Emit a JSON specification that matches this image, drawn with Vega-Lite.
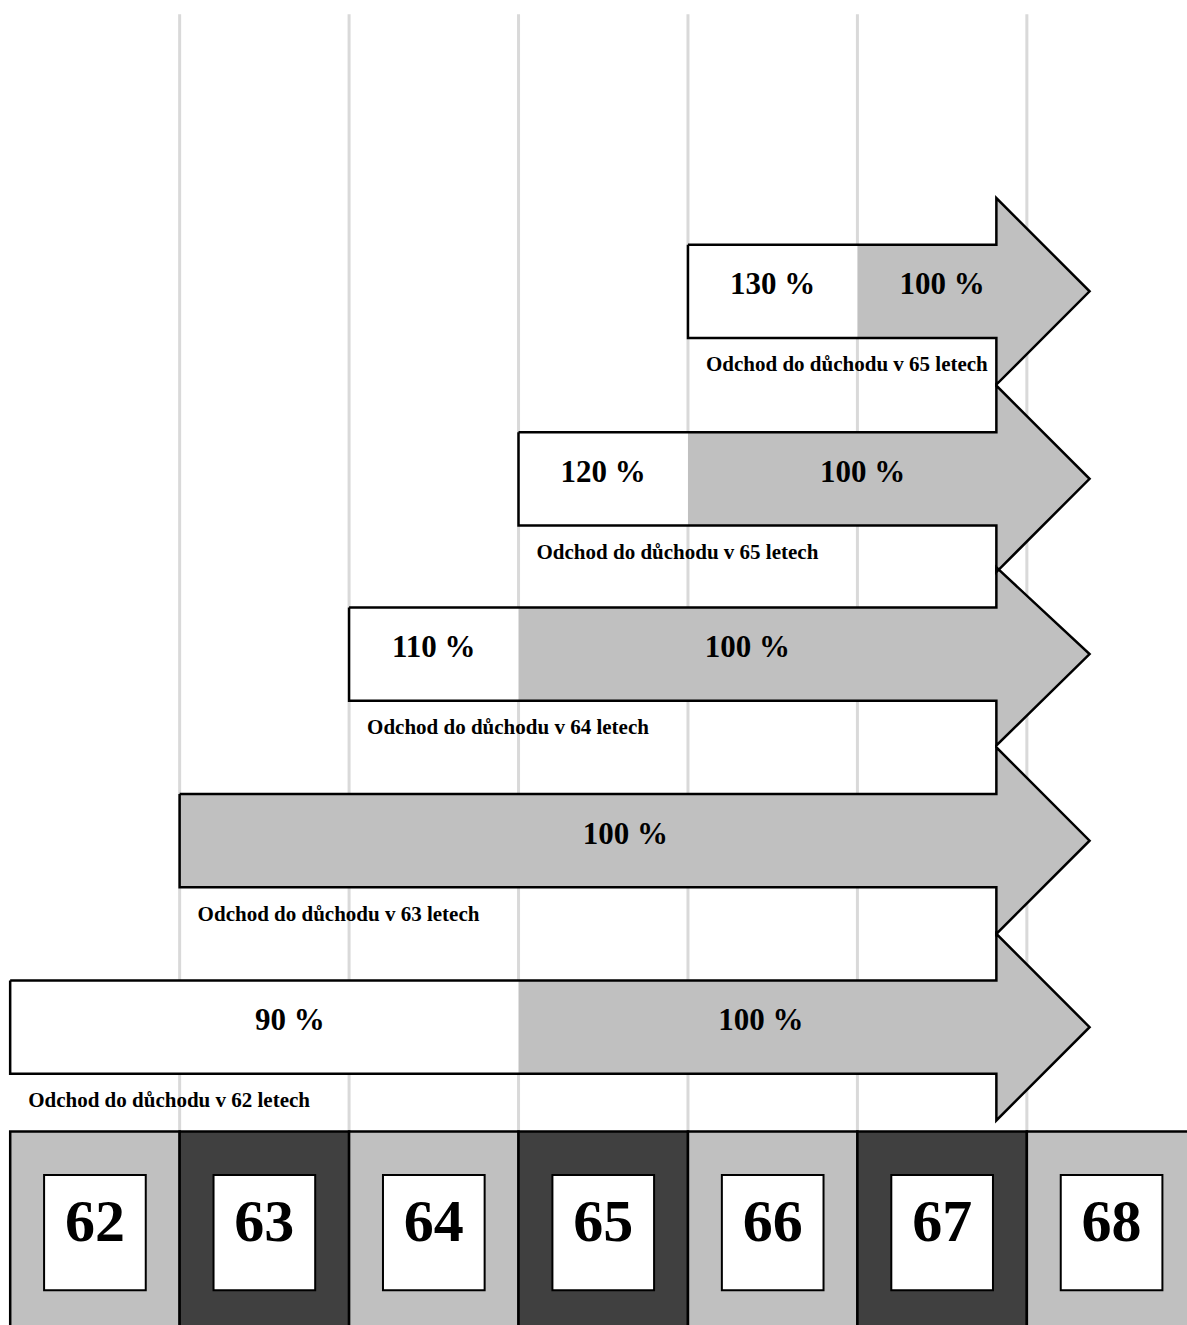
{
  "$schema": "https://vega.github.io/schema/vega-lite/v6.json",
  "width": 1187,
  "height": 1325,
  "autosize": {"type": "none"},
  "padding": 0,
  "background": "white",
  "config": {
    "view": {"stroke": null},
    "text": {"font": "Liberation Serif", "fontWeight": "bold", "color": "black"}
  },
  "datasets": {
    "ages": [
      {"age": 62}, {"age": 63}, {"age": 64}, {"age": 65},
      {"age": 66}, {"age": 67}, {"age": 68}
    ],
    "arrows": [
      {"arrow": 1, "retire": 65, "start": 66, "mid": 11.03, "caption": "Odchod do důchodu v 65 letech"},
      {"arrow": 2, "retire": 65, "start": 65, "mid": 9.02, "caption": "Odchod do důchodu v 65 letech"},
      {"arrow": 3, "retire": 64, "start": 64, "mid": 7.14, "caption": "Odchod do důchodu v 64 letech"},
      {"arrow": 4, "retire": 63, "start": 63, "mid": 5.14, "caption": "Odchod do důchodu v 63 letech"},
      {"arrow": 5, "retire": 62, "start": 62, "mid": 3.14, "caption": "Odchod do důchodu v 62 letech"}
    ],
    "outline": [
      {"arrow": 1, "pt": 1, "age": 66, "level": 11.53},
      {"arrow": 1, "pt": 2, "age": 67.82, "level": 11.53},
      {"arrow": 1, "pt": 3, "age": 67.82, "level": 12.03},
      {"arrow": 1, "pt": 4, "age": 68.37, "level": 11.03},
      {"arrow": 1, "pt": 5, "age": 67.82, "level": 10.03},
      {"arrow": 1, "pt": 6, "age": 67.82, "level": 10.53},
      {"arrow": 1, "pt": 7, "age": 66, "level": 10.53},
      {"arrow": 1, "pt": 8, "age": 66, "level": 11.53},
      {"arrow": 2, "pt": 1, "age": 65, "level": 9.52},
      {"arrow": 2, "pt": 2, "age": 67.82, "level": 9.52},
      {"arrow": 2, "pt": 3, "age": 67.82, "level": 10.02},
      {"arrow": 2, "pt": 4, "age": 68.37, "level": 9.02},
      {"arrow": 2, "pt": 5, "age": 67.82, "level": 8.02},
      {"arrow": 2, "pt": 6, "age": 67.82, "level": 8.52},
      {"arrow": 2, "pt": 7, "age": 65, "level": 8.52},
      {"arrow": 2, "pt": 8, "age": 65, "level": 9.52},
      {"arrow": 3, "pt": 1, "age": 64, "level": 7.64},
      {"arrow": 3, "pt": 2, "age": 67.82, "level": 7.64},
      {"arrow": 3, "pt": 3, "age": 67.82, "level": 8.07},
      {"arrow": 3, "pt": 4, "age": 68.37, "level": 7.14},
      {"arrow": 3, "pt": 5, "age": 67.82, "level": 6.16},
      {"arrow": 3, "pt": 6, "age": 67.82, "level": 6.64},
      {"arrow": 3, "pt": 7, "age": 64, "level": 6.64},
      {"arrow": 3, "pt": 8, "age": 64, "level": 7.64},
      {"arrow": 4, "pt": 1, "age": 63, "level": 5.64},
      {"arrow": 4, "pt": 2, "age": 67.82, "level": 5.64},
      {"arrow": 4, "pt": 3, "age": 67.82, "level": 6.14},
      {"arrow": 4, "pt": 4, "age": 68.37, "level": 5.14},
      {"arrow": 4, "pt": 5, "age": 67.82, "level": 4.14},
      {"arrow": 4, "pt": 6, "age": 67.82, "level": 4.64},
      {"arrow": 4, "pt": 7, "age": 63, "level": 4.64},
      {"arrow": 4, "pt": 8, "age": 63, "level": 5.64},
      {"arrow": 5, "pt": 1, "age": 62, "level": 3.64},
      {"arrow": 5, "pt": 2, "age": 67.82, "level": 3.64},
      {"arrow": 5, "pt": 3, "age": 67.82, "level": 4.14},
      {"arrow": 5, "pt": 4, "age": 68.37, "level": 3.14},
      {"arrow": 5, "pt": 5, "age": 67.82, "level": 2.14},
      {"arrow": 5, "pt": 6, "age": 67.82, "level": 2.64},
      {"arrow": 5, "pt": 7, "age": 62, "level": 2.64},
      {"arrow": 5, "pt": 8, "age": 62, "level": 3.64}
    ],
    "segments": [
      {"arrow": 1, "from": 66, "to": 67, "pct": 130, "label": "130 %", "at": 66.5},
      {"arrow": 1, "from": 67, "to": 67.82, "pct": 100, "label": "100 %", "at": 67.5},
      {"arrow": 2, "from": 65, "to": 66, "pct": 120, "label": "120 %", "at": 65.5},
      {"arrow": 2, "from": 66, "to": 67.82, "pct": 100, "label": "100 %", "at": 67.03},
      {"arrow": 3, "from": 64, "to": 65, "pct": 110, "label": "110 %", "at": 64.5},
      {"arrow": 3, "from": 65, "to": 67.82, "pct": 100, "label": "100 %", "at": 66.35},
      {"arrow": 4, "from": 63, "to": 67.82, "pct": 100, "label": "100 %", "at": 65.63},
      {"arrow": 5, "from": 62, "to": 65, "pct": 90, "label": "90 %", "at": 63.65},
      {"arrow": 5, "from": 65, "to": 67.82, "pct": 100, "label": "100 %", "at": 66.43}
    ]
  },
  "layer": [
    {
      "data": {"name": "ages"},
      "encoding": {
        "x": {
          "field": "age",
          "type": "ordinal",
          "scale": {"range": [10.2, 1196.3], "paddingInner": 0, "paddingOuter": 0},
          "axis": null
        }
      },
      "layer": [
        {
          "transform": [{"filter": "datum.age > 62"}],
          "mark": {"type": "rule", "stroke": "#d9d9d9", "strokeWidth": 3},
          "encoding": {
            "x": {"field": "age", "type": "ordinal", "bandPosition": 0},
            "y": {"datum": 2.02, "type": "quantitative", "scale": {"domain": [0, 14.1], "nice": false, "zero": false}, "axis": null},
            "y2": {"datum": 14.0}
          }
        },
        {
          "mark": {"type": "rect", "stroke": "black", "strokeWidth": 2.5},
          "encoding": {
            "y": {"datum": -0.2, "type": "quantitative", "scale": {"domain": [0, 14.1], "nice": false, "zero": false}, "axis": null},
            "y2": {"datum": 2.02},
            "fill": {
              "condition": {"test": "datum.age % 2 === 0", "value": "#c0c0c0"},
              "value": "#404040"
            }
          }
        },
        {
          "mark": {"type": "bar", "orient": "vertical", "width": {"band": 0.6}, "fill": "white", "stroke": "black", "strokeWidth": 2},
          "encoding": {
            "y": {"datum": 0.32, "type": "quantitative", "scale": {"domain": [0, 14.1], "nice": false, "zero": false}, "axis": null},
            "y2": {"datum": 1.554}
          }
        },
        {
          "mark": {"type": "text", "fontSize": 60, "baseline": "alphabetic", "align": "center"},
          "encoding": {
            "y": {"datum": 0.851, "type": "quantitative", "scale": {"domain": [0, 14.1], "nice": false, "zero": false}, "axis": null},
            "text": {"field": "age", "type": "ordinal"}
          }
        }
      ]
    },
    {
      "layer": [
        {
          "data": {"name": "outline"},
          "mark": {"type": "line", "fill": "#c0c0c0", "stroke": null, "interpolate": "linear"},
          "encoding": {
            "x": {"field": "age", "type": "quantitative", "scale": {"domain": [61.94, 68.945], "nice": false, "zero": false}, "axis": null},
            "y": {"field": "level", "type": "quantitative", "scale": {"domain": [0, 14.1], "nice": false, "zero": false}, "axis": null},
            "detail": {"field": "arrow", "type": "nominal"},
            "order": {"field": "pt", "type": "quantitative"}
          }
        },
        {
          "data": {"name": "segments"},
          "transform": [
            {"filter": "datum.pct !== 100"},
            {"lookup": "arrow", "from": {"data": {"name": "arrows"}, "key": "arrow", "fields": ["mid"]}}
          ],
          "mark": {"type": "bar", "orient": "horizontal", "height": 94, "fill": "white", "stroke": null},
          "encoding": {
            "x": {"field": "from", "type": "quantitative", "scale": {"domain": [61.94, 68.945], "nice": false, "zero": false}, "axis": null},
            "x2": {"field": "to"},
            "y": {"field": "mid", "type": "quantitative", "scale": {"domain": [0, 14.1], "nice": false, "zero": false}, "axis": null}
          }
        },
        {
          "data": {"name": "outline"},
          "mark": {"type": "line", "stroke": "black", "strokeWidth": 2.5, "strokeJoin": "miter", "interpolate": "linear"},
          "encoding": {
            "x": {"field": "age", "type": "quantitative", "scale": {"domain": [61.94, 68.945], "nice": false, "zero": false}, "axis": null},
            "y": {"field": "level", "type": "quantitative", "scale": {"domain": [0, 14.1], "nice": false, "zero": false}, "axis": null},
            "detail": {"field": "arrow", "type": "nominal"},
            "order": {"field": "pt", "type": "quantitative"}
          }
        },
        {
          "data": {"name": "segments"},
          "transform": [
            {"lookup": "arrow", "from": {"data": {"name": "arrows"}, "key": "arrow", "fields": ["mid"]}}
          ],
          "mark": {"type": "text", "fontSize": 31, "align": "center", "baseline": "alphabetic", "dy": 3},
          "encoding": {
            "x": {"field": "at", "type": "quantitative", "scale": {"domain": [61.94, 68.945], "nice": false, "zero": false}, "axis": null},
            "y": {"field": "mid", "type": "quantitative", "scale": {"domain": [0, 14.1], "nice": false, "zero": false}, "axis": null},
            "text": {"field": "label", "type": "nominal"}
          }
        },
        {
          "data": {"name": "arrows"},
          "mark": {"type": "text", "fontSize": 21, "align": "left", "baseline": "alphabetic", "dx": 18, "dy": 80},
          "encoding": {
            "x": {"field": "start", "type": "quantitative", "scale": {"domain": [61.94, 68.945], "nice": false, "zero": false}, "axis": null},
            "y": {"field": "mid", "type": "quantitative", "scale": {"domain": [0, 14.1], "nice": false, "zero": false}, "axis": null},
            "text": {"field": "caption", "type": "nominal"}
          }
        }
      ]
    }
  ],
  "resolve": {"scale": {"x": "independent"}}
}
